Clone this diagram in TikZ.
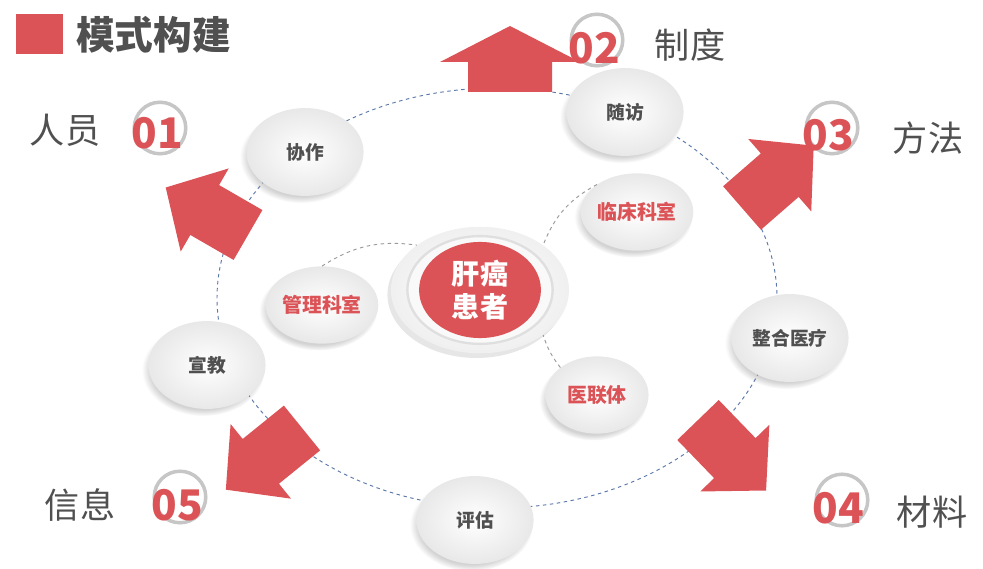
\documentclass[tikz,border=0pt]{standalone}
\usepackage{fontspec}
\setmainfont{Noto Sans CJK SC}
\usetikzlibrary{shapes.geometric,shadows}
\definecolor{hred}{RGB}{219,83,86}
\definecolor{hgray}{RGB}{80,80,80}
\tikzset{
  disc/.style={ellipse,minimum width=#1,minimum height=0.75*#1,inner sep=0pt,
    shading=radial,inner color=white,outer color=gray!18,
    circular drop shadow={opacity=0.35,shadow xshift=-3pt,shadow yshift=-4pt,shadow scale=1.05},
    font=\fontsize{16}{18}\selectfont\bfseries,text=hgray},
  subdisc/.style={disc=#1,text=hred,font=\fontsize{17}{19}\selectfont\bfseries},
  badge/.style={circle,draw=gray!45,line width=3pt,minimum size=44pt,inner sep=0pt},
  num/.style={text=hred,font=\fontsize{36}{38}\selectfont\bfseries},
  lbl/.style={text=hgray,font=\fontsize{30}{32}\selectfont},
  link/.style={gray!80,dashed,thick}
}
\newcommand{\blockarrow}[6]{% x,y,angle,L,h,H
  \fill[hred,shift={(#1,#2)},rotate=#3]
    (0,-#6*0.6) -- (#4-#5,-#6*0.6) -- (#4-#5,-#6) -- (#4,0) -- (#4-#5,#6)
    -- (#4-#5,#6*0.6) -- (0,#6*0.6) -- cycle;}
\begin{document}
\begin{tikzpicture}[x=0.03cm,y=-0.03cm]
\useasboundingbox (0,0) rectangle (983,569);
% title
\fill[hred] (16,14) rectangle (63,54);
\node[anchor=west,text=hgray,font=\fontsize{33}{35}\selectfont\bfseries] (title) at (72,35) {模式构建};
% ring
\draw[dashed,thick,color={rgb,255:red,90;green,120;blue,170}] (497,298) ellipse [x radius=280,y radius=210];
% block arrows
\blockarrow{510}{92}{90}{66}{36}{70}
\blockarrow{248}{235}{150}{95}{45}{48}
\blockarrow{742}{208}{41}{95}{45}{48}
\blockarrow{698}{420}{-46}{98}{45}{48}
\blockarrow{302}{428}{219}{98}{45}{48}
% outer discs
\node[disc=100pt] (xz) at (305,152) {协作};
\node[disc=100pt] (sf) at (625,112) {随访};
\node[disc=100pt] (zh) at (790,338) {整合医疗};
\node[disc=100pt] (pg) at (475,520) {评估};
\node[disc=100pt] (xj) at (207,365) {宣教};
% centre
\node[ellipse,minimum width=152pt,minimum height=108pt,shading=radial,inner color=white,outer color=gray!12,
  drop shadow={opacity=0.2,shadow xshift=-3pt,shadow yshift=-4pt}] (ring) at (480,290) {};
\node[ellipse,draw=gray!25,line width=2pt,fill=gray!5,minimum width=124pt,minimum height=92pt] at (480,290) {};
\node[ellipse,fill=hred,minimum width=104pt,minimum height=82pt,align=center,text=white,
  font=\fontsize{24}{28}\selectfont\bfseries] (hcc) at (480,290) {肝癌\\患者};
% inner discs
\node[subdisc=88pt] (lc) at (637,212) {临床科室};
\node[subdisc=88pt] (gl) at (322,305) {管理科室};
\node[subdisc=88pt] (yl) at (597,395) {医联体};
\draw[link] (gl.north) to[bend left=20] (ring.north west);
\draw[link] (lc.north west) to[bend right=20] (ring.north east);
\draw[link] (yl.north west) to[bend left=10] (ring.south east);
% badges
\node[badge] (b1) at (160,128) {};
\node[num] (n1) at (157,133) {01};
\node[lbl] (l1) at (65,130) {人员};
\node[badge] (b2) at (597,40) {};
\node[num] (n2) at (594,48) {02};
\node[lbl] (l2) at (690,45) {制度};
\node[badge] (b3) at (832,128) {};
\node[num] (n3) at (828,135) {03};
\node[lbl] (l3) at (928,138) {方法};
\node[badge] (b4) at (842,500) {};
\node[num] (n4) at (838,508) {04};
\node[lbl] (l4) at (932,512) {材料};
\node[badge] (b5) at (180,497) {};
\node[num] (n5) at (177,505) {05};
\node[lbl] (l5) at (80,505) {信息};
\end{tikzpicture}
\end{document}
